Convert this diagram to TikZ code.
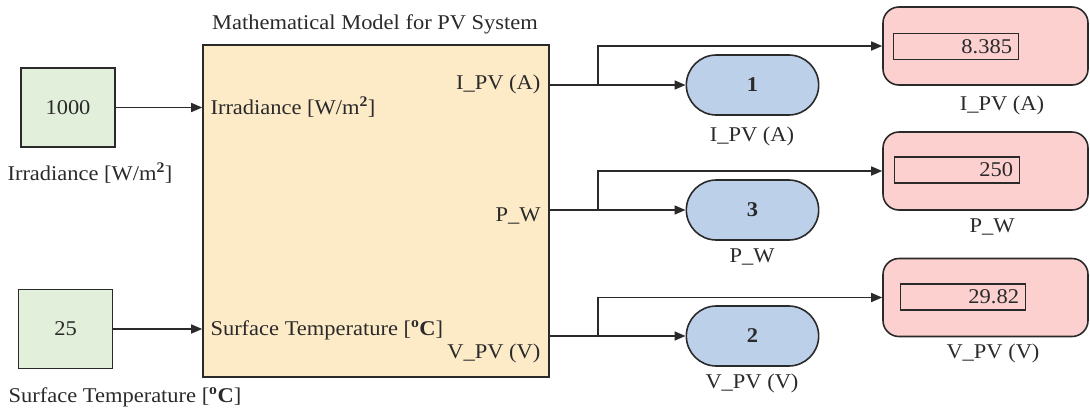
\documentclass[tikz,border=0pt]{standalone}
\usepackage{fontspec}
\setmainfont{Liberation Serif}[FakeStretch=1.07]
\usetikzlibrary{arrows.meta,shapes.misc}
\definecolor{constgreen}{HTML}{E2EFDA}
\definecolor{modelorange}{HTML}{FDEBC8}
\definecolor{portblue}{HTML}{BDD0EA}
\definecolor{displaypink}{HTML}{FDD0D0}
\definecolor{linegray}{HTML}{2A2A2A}

\begin{document}
\begin{tikzpicture}[x=1pt, y=-1pt,
    every node/.style={font=\fontsize{21}{24}\selectfont, text=linegray},
    srcblock/.style={rectangle, draw=linegray, line width=1.6pt, fill=constgreen,
                     minimum width=94pt, minimum height=79pt},
    modelblock/.style={rectangle, draw=linegray, line width=1.6pt, fill=modelorange,
                       minimum width=346pt, minimum height=332pt},
    outport/.style={rounded rectangle, draw=linegray, line width=1.6pt, fill=portblue,
                    minimum width=139pt, minimum height=60pt, font=\fontsize{21}{24}\selectfont\bfseries},
    display/.style={rectangle, rounded corners=16pt, draw=linegray, line width=1.6pt,
                    fill=displaypink, minimum width=205pt, minimum height=78pt},
    readout/.style={rectangle, draw=linegray, line width=1.5pt, minimum width=125pt,
                    minimum height=26pt, text width=112pt, align=right, inner sep=0pt},
    wire/.style={draw=linegray, line width=1.6pt},
    arrowwire/.style={wire, -{Triangle[length=11pt,width=9pt]}}
]
\useasboundingbox (0,0) rectangle (1090,408);

% sources
\node[srcblock] (irr) at (68,107.5) {1000};
\node (irrlabel) at (90,173) {Irradiance [W/m\textsuperscript{\textbf{2}}]};
\node[srcblock] (temp) at (65.5,329) {25};
\node (templabel) at (125,397) {Surface Temperature [\textbf{\textsuperscript{o}C}]};

% model block
\node[modelblock] (model) at (376,211) {};
\node (modeltitle) at (375,24) {Mathematical Model for PV System};
\node[anchor=west] (inirr) at (207,107) {Irradiance [W/m\textsuperscript{\textbf{2}}]};
\node[anchor=west] (intemp) at (207,330) {Surface Temperature [\textbf{\textsuperscript{o}C}]};
\node[anchor=east] (outipv) at (544,84) {I\_PV (A)};
\node[anchor=east] (outpw) at (544,216) {P\_W};
\node[anchor=east] (outvpv) at (544,353) {V\_PV (V)};

% outports
\node[outport] (port1) at (752.5,85) {1};
\node (port1label) at (752,136) {I\_PV (A)};
\node[outport] (port3) at (752.5,210) {3};
\node (port3label) at (752,257) {P\_W};
\node[outport] (port2) at (752.5,336) {2};
\node (port2label) at (752,383) {V\_PV (V)};

% displays
\node[display] (disp1) at (985.5,46) {};
\node[readout] (read1) at (956,46.5) {8.385};
\node (disp1label) at (1002,105) {I\_PV (A)};
\node[display] (disp2) at (985.5,171) {};
\node[readout] (read2) at (957,170) {250};
\node (disp2label) at (992,227) {P\_W};
\node[display] (disp3) at (985.5,297.5) {};
\node[readout] (read3) at (963,297) {29.82};
\node (disp3label) at (993,353) {V\_PV (V)};

% branch points
\coordinate (br1) at (598,85);
\coordinate (br2) at (598,210);
\coordinate (br3) at (598,336);

% connectors
\draw[arrowwire] (irr) -- (model.west |- irr);
\draw[arrowwire] (temp) -- (model.west |- temp);
\draw[arrowwire] (model.east |- port1) -- (port1);
\draw[arrowwire] (br1) |- (disp1.west);
\draw[arrowwire] (model.east |- port3) -- (port3);
\draw[arrowwire] (br2) |- (disp2.west);
\draw[arrowwire] (model.east |- port2) -- (port2);
\draw[arrowwire] (br3) |- (disp3.west);
\end{tikzpicture}
\end{document}
